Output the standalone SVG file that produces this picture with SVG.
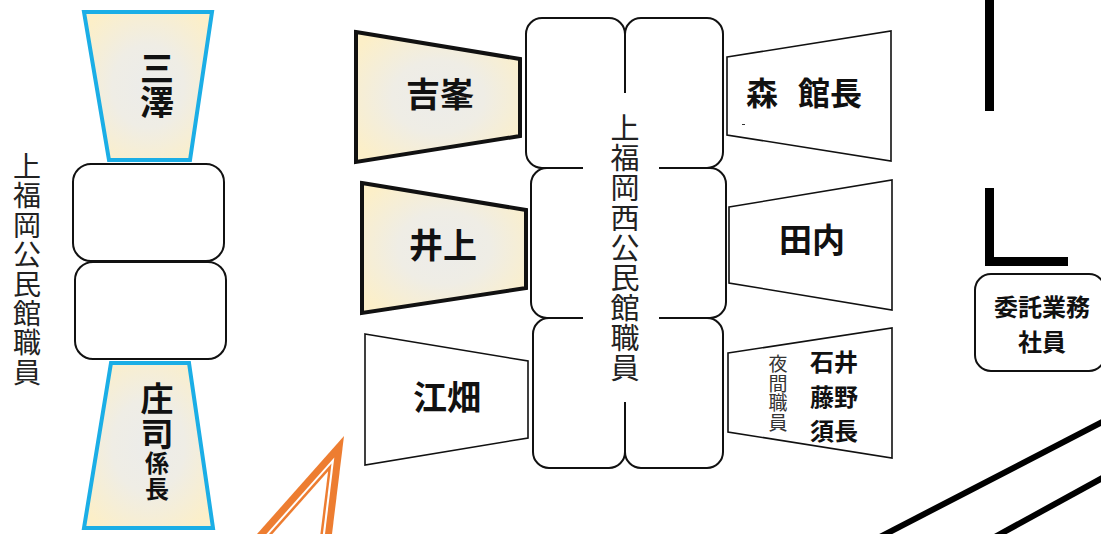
<svg xmlns="http://www.w3.org/2000/svg" width="1101" height="534" viewBox="0 0 1101 534">
<defs>
<radialGradient id="cream" cx="0.5" cy="0.5" r="0.62">
<stop offset="0" stop-color="#ECECEA"/>
<stop offset="0.45" stop-color="#EFEDE5"/>
<stop offset="1" stop-color="#FCEFC8"/>
</radialGradient>
<style>
.blue{fill:url(#cream);stroke:#1BAEE6;stroke-width:4;stroke-linejoin:miter}
.goldb{fill:url(#cream);stroke:#111;stroke-width:4;stroke-linejoin:miter}
.desk{fill:#fff;stroke:#111;stroke-width:2}
.thin{fill:#fff;stroke:#111;stroke-width:1.6}
.name{font-family:"Noto Sans CJK JP","Noto Sans CJK SC",sans-serif;font-weight:700;fill:#111;text-anchor:middle;dominant-baseline:central}
.vname{font-family:"Noto Sans CJK JP","Noto Sans CJK SC",sans-serif;font-weight:700;fill:#111;writing-mode:vertical-rl}
.vlabel{font-family:"Noto Sans CJK JP","Noto Sans CJK SC",sans-serif;font-weight:400;fill:#222;writing-mode:vertical-rl;text-anchor:middle}
.wall{fill:#000}
.orange{fill:#ED7D31}
</style>
</defs>
<rect width="1101" height="534" fill="#fff"/>

<g id="left-label">
<text class="vlabel" font-size="28" letter-spacing="1.4" x="27" y="270">上福岡公民館職員</text>
</g>

<g id="misawa">
<polygon class="blue" points="84,12 212,12 190,160 109,160"/>
<text class="vname" font-size="34" x="157" y="85" style="text-anchor:middle">三澤</text>
</g>

<g id="left-desk-1"><rect class="desk" x="73" y="164" width="151" height="97" rx="18"/></g>
<g id="left-desk-2"><rect class="desk" x="75" y="262" width="151" height="97" rx="18"/></g>

<g id="shoji">
<polygon class="blue" points="111,363 189,363 213,528 84,528"/>
<text class="vname" x="157" y="382" letter-spacing="1.5"><tspan font-size="33">庄司</tspan><tspan font-size="24">係長</tspan></text>
</g>

<g id="center-desks">
<rect class="desk" x="526" y="18" width="99" height="150" rx="16"/>
<rect class="desk" x="625" y="18" width="98" height="150" rx="16"/>
<rect class="desk" x="531" y="168" width="97" height="150" rx="16"/>
<rect class="desk" x="628" y="168" width="98" height="150" rx="16"/>
<rect class="desk" x="533" y="318" width="92" height="150" rx="16"/>
<rect class="desk" x="625" y="318" width="98" height="150" rx="16"/>
<rect x="583" y="93" width="76" height="309" fill="#fff"/>
<text class="vlabel" font-size="29" letter-spacing="1" x="625" y="248">上福岡西公民館職員</text>
</g>

<g id="yoshimine">
<polygon class="goldb" points="356,32 520,59 520,136 356,162"/>
<text class="name" font-size="34" x="440" y="92">吉峯</text>
</g>
<g id="inoue">
<polygon class="goldb" points="362,183 526,210 526,288 362,313"/>
<text class="name" font-size="34" x="443" y="243">井上</text>
</g>
<g id="ebata">
<polygon class="thin" points="365,334 528,361 528,438 365,465"/>
<text class="name" font-size="34" x="447" y="395">江畑</text>
</g>

<g id="mori">
<polygon class="thin" points="727,57 891,31 891,161 727,135"/>
<text class="name" font-size="32" x="746" y="91" style="text-anchor:start">森 <tspan x="798">館長</tspan></text>
<rect x="742" y="124" width="3" height="1" fill="#333"/>
</g>
<g id="tauchi">
<polygon class="thin" points="729,207 892,180 892,310 729,283"/>
<text class="name" font-size="33" x="812" y="238">田内</text>
</g>
<g id="night">
<polygon class="thin" points="728,353 892,328 892,458 728,432"/>
<text class="vlabel" font-size="19" letter-spacing="0.6" x="778" y="393.5" style="fill:#333">夜間職員</text>
<text class="name" font-size="24"><tspan x="834" y="360">石井</tspan><tspan x="834" y="394.5">藤野</tspan><tspan x="834" y="429">須長</tspan></text>
</g>

<g id="itaku">
<rect class="desk" x="975" y="274" width="130" height="97" rx="16"/>
<text class="name" font-size="24"><tspan x="1042" y="305">委託業務</tspan><tspan x="1042" y="340">社員</tspan></text>
</g>

<g id="walls">
<rect class="wall" x="985" y="0" width="9" height="111"/>
<rect class="wall" x="985" y="188" width="9" height="78"/>
<rect class="wall" x="985" y="257" width="83" height="9"/>
<line x1="878" y1="538" x2="1106" y2="420" stroke="#000" stroke-width="6"/>
<line x1="993" y1="538" x2="1106" y2="476" stroke="#000" stroke-width="6"/>
</g>

<g id="orange-mark">
<polygon class="orange" points="257,534 344,436 332,534"/>
<polygon fill="#fff" points="266.4,534 334.3,457.4 325,534"/>
<polygon class="orange" points="269,534 331.5,463.6 322.9,534"/>
<polygon fill="#fff" points="272.4,534 328.1,471.2 320.4,534"/>
</g>
</svg>
